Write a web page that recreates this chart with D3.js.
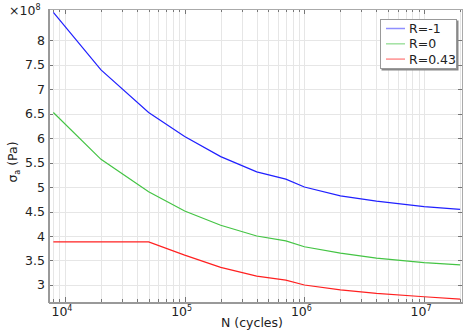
<!DOCTYPE html>
<html>
<head>
<meta charset="utf-8">
<script src="https://cdn.jsdelivr.net/npm/d3@7"></script>
<style>
  body { margin: 0; background: #fff; }
  svg { display: block; font-family: "DejaVu Sans", sans-serif; }
  .grid line { stroke: #e6e6e6; stroke-width: 1; }
  .tick-label { font-size: 12.5px; fill: #222; }
</style>
</head>
<body>
<div id="chart"></div>
<script>
// S-N curves: stress amplitude (x1e8 Pa) vs cycles, three load ratios.
const cycles = [8e3, 2e4, 5e4, 1e5, 2e5, 4e5, 7e5, 1e6, 2e6, 4e6, 1e7, 2e7];
const sigmaRm1 = [8.565, 7.39, 6.52, 6.03, 5.62, 5.31, 5.16, 5.0, 4.82, 4.71, 4.60, 4.545];
const sigmaR0 = [6.52, 5.565, 4.905, 4.51, 4.22, 4.0, 3.90, 3.78, 3.65, 3.55, 3.455, 3.41];
const sigmaR043 = [3.88, 3.88, 3.88, 3.61, 3.36, 3.18, 3.10, 3.0, 2.90, 2.83, 2.76, 2.71];
const seriesNames = ['R=-1', 'R=0', 'R=0.43'];
const seriesColors = ['#2020ff', '#44c444', '#ff2020'];
const yTicks = [3, 3.5, 4, 4.5, 5, 5.5, 6, 6.5, 7, 7.5, 8];
const xMajor = [1e4, 1e5, 1e6, 1e7];

const W = 469, H = 333;
const plotL = 49, plotR = 462, plotT = 9, plotB = 302;

const svg = d3.select('#chart').append('svg').attr('width', W).attr('height', H);

// axis domain (log10 3.867 .. 7.317)
const x = d3.scaleLog().domain([Math.pow(10, 3.8667), Math.pow(10, 7.3167)]).range([plotL, plotR]);
const y = d3.scaleLinear().domain([2.653, 8.633]).range([plotB, plotT]);

// all decade ticks (1..9 x 10^k) inside the domain
const xMinor = [];
for (let k = 3; k <= 7; k++) {
  for (let m = 1; m <= 9; m++) {
    const v = m * Math.pow(10, k);
    if (v >= x.domain()[0] && v <= x.domain()[1]) xMinor.push(v);
  }
}

const grid = svg.append('g').attr('class', 'grid');
grid.selectAll('line.v').data(xMinor).join('line')
  .attr('x1', (d) => Math.round(x(d)) + 0.5).attr('x2', (d) => Math.round(x(d)) + 0.5)
  .attr('y1', plotT).attr('y2', plotB);
grid.selectAll('line.h').data(yTicks).join('line')
  .attr('x1', plotL).attr('x2', plotR)
  .attr('y1', (d) => Math.round(y(d)) + 0.5).attr('y2', (d) => Math.round(y(d)) + 0.5);

// data lines
const allSeries = [sigmaRm1, sigmaR0, sigmaR043];
const line = d3.line().x((d, i) => x(cycles[i])).y((d) => y(d));
allSeries.forEach((vals, s) => {
  svg.append('path').datum(vals)
    .attr('fill', 'none')
    .attr('stroke', seriesColors[s])
    .attr('stroke-width', 1.2)
    .attr('d', line);
});

// frame + inward ticks on all four sides
const ticks = svg.append('g').attr('stroke', '#777').attr('stroke-width', 1);
xMinor.forEach((v) => {
  const px = Math.round(x(v)) + 0.5;
  const len = xMajor.includes(v) ? 5 : 3;
  ticks.append('line').attr('x1', px).attr('x2', px).attr('y1', plotB).attr('y2', plotB - len);
  ticks.append('line').attr('x1', px).attr('x2', px).attr('y1', plotT).attr('y2', plotT + len);
});
yTicks.forEach((v) => {
  const py = Math.round(y(v)) + 0.5;
  ticks.append('line').attr('x1', plotL).attr('x2', plotL + 4).attr('y1', py).attr('y2', py);
  ticks.append('line').attr('x1', plotR).attr('x2', plotR - 4).attr('y1', py).attr('y2', py);
});
svg.append('rect')
  .attr('x', plotL + 0.5).attr('y', plotT + 0.5)
  .attr('width', plotR - plotL).attr('height', plotB - plotT)
  .attr('fill', 'none').attr('stroke', '#aaa').attr('stroke-width', 1);
svg.append('line').attr('x1', plotL).attr('x2', plotL).attr('y1', plotT).attr('y2', plotB + 1)
  .attr('stroke', '#999').attr('stroke-width', 2);
svg.append('line').attr('x1', plotL).attr('x2', plotR + 1).attr('y1', plotB + 1).attr('y2', plotB + 1)
  .attr('stroke', '#999').attr('stroke-width', 2);

// y tick labels
svg.selectAll('text.ylab').data(yTicks).join('text')
  .attr('class', 'tick-label')
  .attr('x', 45).attr('y', (d) => y(d) + 4.5)
  .attr('text-anchor', 'end')
  .text((d) => d);

// x tick labels 10^k
xMajor.forEach((v) => {
  const t = svg.append('text').attr('class', 'tick-label')
    .attr('x', x(v) - 3).attr('y', 316).attr('text-anchor', 'middle');
  t.append('tspan').text('10');
  t.append('tspan').attr('dy', -5).attr('font-size', 8).text(Math.round(Math.log10(v)));
});

// multiplier
const mult = svg.append('text').attr('class', 'tick-label').attr('x', 9).attr('y', 15);
mult.append('tspan').text('×10');
mult.append('tspan').attr('dy', -5).attr('font-size', 8).text('8');

// axis titles
svg.append('text').attr('class', 'tick-label')
  .attr('x', 252).attr('y', 327).attr('text-anchor', 'middle')
  .text('N (cycles)');
const yt = svg.append('text').attr('class', 'tick-label')
  .attr('transform', 'translate(17,162) rotate(-90)')
  .attr('text-anchor', 'middle');
yt.append('tspan').text('σ');
yt.append('tspan').attr('dy', 3).attr('font-size', 8).text('a');
yt.append('tspan').attr('dy', -3).text(' (Pa)');

// legend
const lg = svg.append('g').attr('transform', 'translate(380,19)');
lg.append('rect').attr('x', 1.5).attr('y', 1.5).attr('width', 77).attr('height', 50)
  .attr('fill', '#888');
lg.append('rect').attr('x', 0.5).attr('y', 0.5).attr('width', 76).attr('height', 49)
  .attr('fill', '#fff').attr('stroke', '#999');
seriesNames.forEach((name, i) => {
  const ly = 9.5 + i * 15.3;
  lg.append('line').attr('x1', 6).attr('x2', 25).attr('y1', ly).attr('y2', ly)
    .attr('stroke', seriesColors[i]).attr('stroke-opacity', 0.5).attr('stroke-width', 1.5);
  lg.append('text').attr('class', 'tick-label').attr('x', 29).attr('y', ly + 4.5).text(name);
});
</script>
</body>
</html>
